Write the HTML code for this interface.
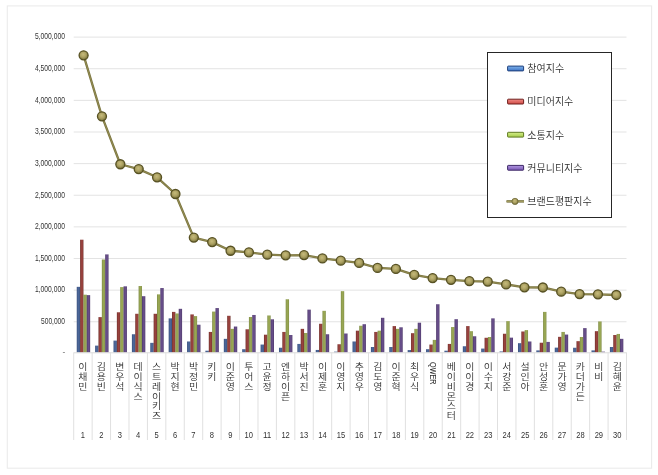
<!DOCTYPE html>
<html lang="ko"><head><meta charset="utf-8"><title>브랜드평판지수</title>
<style>html,body{margin:0;padding:0;background:#fff}svg{display:block;filter:blur(0.3px)}.ax{font-family:"Liberation Sans",sans-serif;font-size:8.4px;fill:#333}.kr{font-family:"Liberation Sans","Noto Sans CJK KR",sans-serif;font-weight:350;fill:#2e2e2e}</style></head><body>
<svg width="658" height="475" viewBox="0 0 658 475">
<defs><radialGradient id="mk" cx="0.45" cy="0.4" r="0.62"><stop offset="0" stop-color="#c6bb7c"/><stop offset="0.5" stop-color="#aca162"/><stop offset="0.85" stop-color="#857e44"/><stop offset="1" stop-color="#655f2d"/></radialGradient></defs>
<defs><linearGradient id="b0" x1="0" y1="0" x2="1" y2="0"><stop offset="0" stop-color="#364d7a"/><stop offset="0.35" stop-color="#4b6698"/><stop offset="0.7" stop-color="#4b6698"/><stop offset="1" stop-color="#364d7a"/></linearGradient><linearGradient id="b1" x1="0" y1="0" x2="1" y2="0"><stop offset="0" stop-color="#6f2f2a"/><stop offset="0.35" stop-color="#97413d"/><stop offset="0.7" stop-color="#97413d"/><stop offset="1" stop-color="#6f2f2a"/></linearGradient><linearGradient id="b2" x1="0" y1="0" x2="1" y2="0"><stop offset="0" stop-color="#7d8a44"/><stop offset="0.35" stop-color="#98a653"/><stop offset="0.7" stop-color="#98a653"/><stop offset="1" stop-color="#7d8a44"/></linearGradient><linearGradient id="b3" x1="0" y1="0" x2="1" y2="0"><stop offset="0" stop-color="#4c3868"/><stop offset="0.35" stop-color="#664d88"/><stop offset="0.7" stop-color="#664d88"/><stop offset="1" stop-color="#4c3868"/></linearGradient></defs>
<rect x="0" y="0" width="658" height="475" fill="#fff"/>
<rect x="7.3" y="5.9" width="644.3" height="462.3" fill="none" stroke="#ebebeb" stroke-width="1.1"/>
<line x1="73.7" y1="321.77" x2="626.5" y2="321.77" stroke="#e3e3e3" stroke-width="1"/>
<line x1="73.7" y1="290.14" x2="626.5" y2="290.14" stroke="#e3e3e3" stroke-width="1"/>
<line x1="73.7" y1="258.51" x2="626.5" y2="258.51" stroke="#e3e3e3" stroke-width="1"/>
<line x1="73.7" y1="226.88" x2="626.5" y2="226.88" stroke="#e3e3e3" stroke-width="1"/>
<line x1="73.7" y1="195.25" x2="626.5" y2="195.25" stroke="#e3e3e3" stroke-width="1"/>
<line x1="73.7" y1="163.62" x2="626.5" y2="163.62" stroke="#e3e3e3" stroke-width="1"/>
<line x1="73.7" y1="131.99" x2="626.5" y2="131.99" stroke="#e3e3e3" stroke-width="1"/>
<line x1="73.7" y1="100.36" x2="626.5" y2="100.36" stroke="#e3e3e3" stroke-width="1"/>
<line x1="73.7" y1="68.73" x2="626.5" y2="68.73" stroke="#e3e3e3" stroke-width="1"/>
<line x1="73.7" y1="37.10" x2="626.5" y2="37.10" stroke="#e3e3e3" stroke-width="1"/>
<text class="ax" x="65" y="324.07" text-anchor="end" textLength="24.0" lengthAdjust="spacingAndGlyphs">500,000</text>
<text class="ax" x="65" y="292.44" text-anchor="end" textLength="30.0" lengthAdjust="spacingAndGlyphs">1,000,000</text>
<text class="ax" x="65" y="260.81" text-anchor="end" textLength="30.0" lengthAdjust="spacingAndGlyphs">1,500,000</text>
<text class="ax" x="65" y="229.18" text-anchor="end" textLength="30.0" lengthAdjust="spacingAndGlyphs">2,000,000</text>
<text class="ax" x="65" y="197.55" text-anchor="end" textLength="30.0" lengthAdjust="spacingAndGlyphs">2,500,000</text>
<text class="ax" x="65" y="165.92" text-anchor="end" textLength="30.0" lengthAdjust="spacingAndGlyphs">3,000,000</text>
<text class="ax" x="65" y="134.29" text-anchor="end" textLength="30.0" lengthAdjust="spacingAndGlyphs">3,500,000</text>
<text class="ax" x="65" y="102.66" text-anchor="end" textLength="30.0" lengthAdjust="spacingAndGlyphs">4,000,000</text>
<text class="ax" x="65" y="71.03" text-anchor="end" textLength="30.0" lengthAdjust="spacingAndGlyphs">4,500,000</text>
<text class="ax" x="65" y="39.40" text-anchor="end" textLength="30.0" lengthAdjust="spacingAndGlyphs">5,000,000</text>
<text class="ax" x="65.3" y="354.6" text-anchor="end" fill-opacity="0.7">-</text>
<rect x="76.75" y="286.84" width="3.35" height="65.56" fill="url(#b0)"/>
<rect x="80.10" y="239.70" width="3.35" height="112.70" fill="url(#b1)"/>
<rect x="83.45" y="294.69" width="3.35" height="57.71" fill="url(#b2)"/>
<rect x="86.80" y="295.13" width="3.35" height="57.27" fill="url(#b3)"/>
<rect x="95.13" y="345.62" width="3.35" height="6.78" fill="url(#b0)"/>
<rect x="98.48" y="317.11" width="3.35" height="35.29" fill="url(#b1)"/>
<rect x="101.84" y="259.50" width="3.35" height="92.90" fill="url(#b2)"/>
<rect x="105.19" y="254.40" width="3.35" height="98.00" fill="url(#b3)"/>
<rect x="113.52" y="340.59" width="3.35" height="11.81" fill="url(#b0)"/>
<rect x="116.87" y="312.27" width="3.35" height="40.13" fill="url(#b1)"/>
<rect x="120.22" y="287.09" width="3.35" height="65.31" fill="url(#b2)"/>
<rect x="123.57" y="286.33" width="3.35" height="66.07" fill="url(#b3)"/>
<rect x="131.90" y="334.25" width="3.35" height="18.15" fill="url(#b0)"/>
<rect x="135.25" y="313.78" width="3.35" height="38.62" fill="url(#b1)"/>
<rect x="138.61" y="286.02" width="3.35" height="66.38" fill="url(#b2)"/>
<rect x="141.96" y="296.19" width="3.35" height="56.21" fill="url(#b3)"/>
<rect x="150.29" y="342.85" width="3.35" height="9.55" fill="url(#b0)"/>
<rect x="153.64" y="313.78" width="3.35" height="38.62" fill="url(#b1)"/>
<rect x="156.99" y="294.37" width="3.35" height="58.03" fill="url(#b2)"/>
<rect x="160.34" y="288.03" width="3.35" height="64.37" fill="url(#b3)"/>
<rect x="168.67" y="318.36" width="3.35" height="34.04" fill="url(#b0)"/>
<rect x="172.02" y="311.89" width="3.35" height="40.51" fill="url(#b1)"/>
<rect x="175.38" y="313.46" width="3.35" height="38.94" fill="url(#b2)"/>
<rect x="178.73" y="308.82" width="3.35" height="43.58" fill="url(#b3)"/>
<rect x="187.06" y="341.47" width="3.35" height="10.93" fill="url(#b0)"/>
<rect x="190.41" y="314.41" width="3.35" height="37.99" fill="url(#b1)"/>
<rect x="193.76" y="316.10" width="3.35" height="36.30" fill="url(#b2)"/>
<rect x="197.11" y="324.71" width="3.35" height="27.69" fill="url(#b3)"/>
<rect x="205.44" y="350.70" width="3.35" height="1.70" fill="url(#b0)"/>
<rect x="208.79" y="331.93" width="3.35" height="20.47" fill="url(#b1)"/>
<rect x="212.15" y="311.58" width="3.35" height="40.82" fill="url(#b2)"/>
<rect x="215.50" y="308.06" width="3.35" height="44.34" fill="url(#b3)"/>
<rect x="223.83" y="338.84" width="3.35" height="13.56" fill="url(#b0)"/>
<rect x="227.18" y="315.79" width="3.35" height="36.61" fill="url(#b1)"/>
<rect x="230.53" y="328.85" width="3.35" height="23.55" fill="url(#b2)"/>
<rect x="233.88" y="326.53" width="3.35" height="25.87" fill="url(#b3)"/>
<rect x="242.21" y="349.20" width="3.35" height="3.20" fill="url(#b0)"/>
<rect x="245.56" y="329.29" width="3.35" height="23.11" fill="url(#b1)"/>
<rect x="248.92" y="316.98" width="3.35" height="35.42" fill="url(#b2)"/>
<rect x="252.27" y="314.97" width="3.35" height="37.43" fill="url(#b3)"/>
<rect x="260.60" y="344.55" width="3.35" height="7.85" fill="url(#b0)"/>
<rect x="263.95" y="334.69" width="3.35" height="17.71" fill="url(#b1)"/>
<rect x="267.30" y="315.47" width="3.35" height="36.93" fill="url(#b2)"/>
<rect x="270.65" y="319.30" width="3.35" height="33.10" fill="url(#b3)"/>
<rect x="278.98" y="347.75" width="3.35" height="4.65" fill="url(#b0)"/>
<rect x="282.33" y="331.93" width="3.35" height="20.47" fill="url(#b1)"/>
<rect x="285.69" y="299.27" width="3.35" height="53.13" fill="url(#b2)"/>
<rect x="289.04" y="335.00" width="3.35" height="17.40" fill="url(#b3)"/>
<rect x="297.37" y="343.92" width="3.35" height="8.48" fill="url(#b0)"/>
<rect x="300.72" y="328.85" width="3.35" height="23.55" fill="url(#b1)"/>
<rect x="304.07" y="332.99" width="3.35" height="19.41" fill="url(#b2)"/>
<rect x="307.42" y="309.63" width="3.35" height="42.77" fill="url(#b3)"/>
<rect x="315.75" y="349.95" width="3.35" height="2.45" fill="url(#b0)"/>
<rect x="319.10" y="323.76" width="3.35" height="28.64" fill="url(#b1)"/>
<rect x="322.46" y="310.83" width="3.35" height="41.57" fill="url(#b2)"/>
<rect x="325.81" y="334.25" width="3.35" height="18.15" fill="url(#b3)"/>
<rect x="334.14" y="351.65" width="3.35" height="0.75" fill="url(#b0)"/>
<rect x="337.49" y="344.24" width="3.35" height="8.16" fill="url(#b1)"/>
<rect x="340.84" y="291.17" width="3.35" height="61.23" fill="url(#b2)"/>
<rect x="344.19" y="333.50" width="3.35" height="18.90" fill="url(#b3)"/>
<rect x="352.52" y="341.47" width="3.35" height="10.93" fill="url(#b0)"/>
<rect x="355.87" y="330.67" width="3.35" height="21.73" fill="url(#b1)"/>
<rect x="359.23" y="325.77" width="3.35" height="26.63" fill="url(#b2)"/>
<rect x="362.58" y="324.20" width="3.35" height="28.20" fill="url(#b3)"/>
<rect x="370.91" y="347.00" width="3.35" height="5.40" fill="url(#b0)"/>
<rect x="374.26" y="331.93" width="3.35" height="20.47" fill="url(#b1)"/>
<rect x="377.61" y="330.67" width="3.35" height="21.73" fill="url(#b2)"/>
<rect x="380.96" y="317.80" width="3.35" height="34.60" fill="url(#b3)"/>
<rect x="389.29" y="347.00" width="3.35" height="5.40" fill="url(#b0)"/>
<rect x="392.64" y="326.09" width="3.35" height="26.31" fill="url(#b1)"/>
<rect x="396.00" y="328.85" width="3.35" height="23.55" fill="url(#b2)"/>
<rect x="399.35" y="327.28" width="3.35" height="25.12" fill="url(#b3)"/>
<rect x="407.68" y="350.08" width="3.35" height="2.32" fill="url(#b0)"/>
<rect x="411.03" y="333.18" width="3.35" height="19.22" fill="url(#b1)"/>
<rect x="414.38" y="328.85" width="3.35" height="23.55" fill="url(#b2)"/>
<rect x="417.73" y="322.70" width="3.35" height="29.70" fill="url(#b3)"/>
<rect x="426.06" y="349.20" width="3.35" height="3.20" fill="url(#b0)"/>
<rect x="429.41" y="344.55" width="3.35" height="7.85" fill="url(#b1)"/>
<rect x="432.77" y="339.90" width="3.35" height="12.50" fill="url(#b2)"/>
<rect x="436.12" y="304.23" width="3.35" height="48.17" fill="url(#b3)"/>
<rect x="444.45" y="350.70" width="3.35" height="1.70" fill="url(#b0)"/>
<rect x="447.80" y="343.92" width="3.35" height="8.48" fill="url(#b1)"/>
<rect x="451.15" y="327.03" width="3.35" height="25.37" fill="url(#b2)"/>
<rect x="454.50" y="319.18" width="3.35" height="33.22" fill="url(#b3)"/>
<rect x="462.83" y="346.25" width="3.35" height="6.15" fill="url(#b0)"/>
<rect x="466.18" y="326.09" width="3.35" height="26.31" fill="url(#b1)"/>
<rect x="469.54" y="331.17" width="3.35" height="21.23" fill="url(#b2)"/>
<rect x="472.89" y="336.26" width="3.35" height="16.14" fill="url(#b3)"/>
<rect x="481.22" y="348.57" width="3.35" height="3.83" fill="url(#b0)"/>
<rect x="484.57" y="337.77" width="3.35" height="14.63" fill="url(#b1)"/>
<rect x="487.92" y="337.01" width="3.35" height="15.39" fill="url(#b2)"/>
<rect x="491.27" y="318.36" width="3.35" height="34.04" fill="url(#b3)"/>
<rect x="499.60" y="351.46" width="3.35" height="0.94" fill="url(#b0)"/>
<rect x="502.95" y="333.75" width="3.35" height="18.65" fill="url(#b1)"/>
<rect x="506.31" y="321.13" width="3.35" height="31.27" fill="url(#b2)"/>
<rect x="509.66" y="337.64" width="3.35" height="14.76" fill="url(#b3)"/>
<rect x="517.99" y="343.17" width="3.35" height="9.23" fill="url(#b0)"/>
<rect x="521.34" y="331.49" width="3.35" height="20.91" fill="url(#b1)"/>
<rect x="524.69" y="330.11" width="3.35" height="22.29" fill="url(#b2)"/>
<rect x="528.04" y="341.47" width="3.35" height="10.93" fill="url(#b3)"/>
<rect x="536.37" y="350.39" width="3.35" height="2.01" fill="url(#b0)"/>
<rect x="539.72" y="342.73" width="3.35" height="9.67" fill="url(#b1)"/>
<rect x="543.08" y="311.89" width="3.35" height="40.51" fill="url(#b2)"/>
<rect x="546.43" y="341.91" width="3.35" height="10.49" fill="url(#b3)"/>
<rect x="554.76" y="347.63" width="3.35" height="4.77" fill="url(#b0)"/>
<rect x="558.11" y="336.83" width="3.35" height="15.57" fill="url(#b1)"/>
<rect x="561.46" y="331.93" width="3.35" height="20.47" fill="url(#b2)"/>
<rect x="564.81" y="334.56" width="3.35" height="17.84" fill="url(#b3)"/>
<rect x="573.14" y="347.75" width="3.35" height="4.65" fill="url(#b0)"/>
<rect x="576.49" y="341.16" width="3.35" height="11.24" fill="url(#b1)"/>
<rect x="579.85" y="337.01" width="3.35" height="15.39" fill="url(#b2)"/>
<rect x="583.20" y="328.10" width="3.35" height="24.30" fill="url(#b3)"/>
<rect x="591.53" y="350.39" width="3.35" height="2.01" fill="url(#b0)"/>
<rect x="594.88" y="331.17" width="3.35" height="21.23" fill="url(#b1)"/>
<rect x="598.23" y="321.44" width="3.35" height="30.96" fill="url(#b2)"/>
<rect x="601.58" y="351.65" width="3.35" height="0.75" fill="url(#b3)"/>
<rect x="609.91" y="347.00" width="3.35" height="5.40" fill="url(#b0)"/>
<rect x="613.26" y="335.00" width="3.35" height="17.40" fill="url(#b1)"/>
<rect x="616.62" y="333.94" width="3.35" height="18.46" fill="url(#b2)"/>
<rect x="619.97" y="338.84" width="3.35" height="13.56" fill="url(#b3)"/>
<line x1="73.7" y1="352.8" x2="626.5" y2="352.8" stroke="#dadada" stroke-width="1"/>
<line x1="73.70" y1="352.50" x2="73.70" y2="440" stroke="#e0e0e0" stroke-width="1"/>
<line x1="92.13" y1="352.50" x2="92.13" y2="440" stroke="#e0e0e0" stroke-width="1"/>
<line x1="110.55" y1="352.50" x2="110.55" y2="440" stroke="#e0e0e0" stroke-width="1"/>
<line x1="128.98" y1="352.50" x2="128.98" y2="440" stroke="#e0e0e0" stroke-width="1"/>
<line x1="147.41" y1="352.50" x2="147.41" y2="440" stroke="#e0e0e0" stroke-width="1"/>
<line x1="165.83" y1="352.50" x2="165.83" y2="440" stroke="#e0e0e0" stroke-width="1"/>
<line x1="184.26" y1="352.50" x2="184.26" y2="440" stroke="#e0e0e0" stroke-width="1"/>
<line x1="202.69" y1="352.50" x2="202.69" y2="440" stroke="#e0e0e0" stroke-width="1"/>
<line x1="221.11" y1="352.50" x2="221.11" y2="440" stroke="#e0e0e0" stroke-width="1"/>
<line x1="239.54" y1="352.50" x2="239.54" y2="440" stroke="#e0e0e0" stroke-width="1"/>
<line x1="257.97" y1="352.50" x2="257.97" y2="440" stroke="#e0e0e0" stroke-width="1"/>
<line x1="276.39" y1="352.50" x2="276.39" y2="440" stroke="#e0e0e0" stroke-width="1"/>
<line x1="294.82" y1="352.50" x2="294.82" y2="440" stroke="#e0e0e0" stroke-width="1"/>
<line x1="313.25" y1="352.50" x2="313.25" y2="440" stroke="#e0e0e0" stroke-width="1"/>
<line x1="331.67" y1="352.50" x2="331.67" y2="440" stroke="#e0e0e0" stroke-width="1"/>
<line x1="350.10" y1="352.50" x2="350.10" y2="440" stroke="#e0e0e0" stroke-width="1"/>
<line x1="368.53" y1="352.50" x2="368.53" y2="440" stroke="#e0e0e0" stroke-width="1"/>
<line x1="386.95" y1="352.50" x2="386.95" y2="440" stroke="#e0e0e0" stroke-width="1"/>
<line x1="405.38" y1="352.50" x2="405.38" y2="440" stroke="#e0e0e0" stroke-width="1"/>
<line x1="423.81" y1="352.50" x2="423.81" y2="440" stroke="#e0e0e0" stroke-width="1"/>
<line x1="442.23" y1="352.50" x2="442.23" y2="440" stroke="#e0e0e0" stroke-width="1"/>
<line x1="460.66" y1="352.50" x2="460.66" y2="440" stroke="#e0e0e0" stroke-width="1"/>
<line x1="479.09" y1="352.50" x2="479.09" y2="440" stroke="#e0e0e0" stroke-width="1"/>
<line x1="497.51" y1="352.50" x2="497.51" y2="440" stroke="#e0e0e0" stroke-width="1"/>
<line x1="515.94" y1="352.50" x2="515.94" y2="440" stroke="#e0e0e0" stroke-width="1"/>
<line x1="534.37" y1="352.50" x2="534.37" y2="440" stroke="#e0e0e0" stroke-width="1"/>
<line x1="552.79" y1="352.50" x2="552.79" y2="440" stroke="#e0e0e0" stroke-width="1"/>
<line x1="571.22" y1="352.50" x2="571.22" y2="440" stroke="#e0e0e0" stroke-width="1"/>
<line x1="589.65" y1="352.50" x2="589.65" y2="440" stroke="#e0e0e0" stroke-width="1"/>
<line x1="608.07" y1="352.50" x2="608.07" y2="440" stroke="#e0e0e0" stroke-width="1"/>
<line x1="626.50" y1="352.50" x2="626.50" y2="440" stroke="#e0e0e0" stroke-width="1"/>
<text class="kr" font-size="9.4" text-anchor="middle" transform="scale(1.06 1)" x="78.22 78.22 78.22" y="370.40 380.12 389.84">이채민</text>
<text class="ax" style="font-size:8.6px" text-anchor="middle" x="82.91" y="438.4" textLength="4.2" lengthAdjust="spacingAndGlyphs">1</text>
<text class="kr" font-size="9.4" text-anchor="middle" transform="scale(1.06 1)" x="95.60 95.60 95.60" y="370.40 380.12 389.84">김용빈</text>
<text class="ax" style="font-size:8.6px" text-anchor="middle" x="101.34" y="438.4" textLength="4.2" lengthAdjust="spacingAndGlyphs">2</text>
<text class="kr" font-size="9.4" text-anchor="middle" transform="scale(1.06 1)" x="112.99 112.99 112.99" y="370.40 380.12 389.84">변우석</text>
<text class="ax" style="font-size:8.6px" text-anchor="middle" x="119.77" y="438.4" textLength="4.2" lengthAdjust="spacingAndGlyphs">3</text>
<text class="kr" font-size="9.4" text-anchor="middle" transform="scale(1.06 1)" x="130.37 130.37 130.37 130.37" y="370.40 380.12 389.84 399.56">데이식스</text>
<text class="ax" style="font-size:8.6px" text-anchor="middle" x="138.19" y="438.4" textLength="4.2" lengthAdjust="spacingAndGlyphs">4</text>
<text class="kr" font-size="9.4" text-anchor="middle" transform="scale(1.06 1)" x="147.75 147.75 147.75 147.75 147.75 147.75" y="370.40 380.12 389.84 399.56 409.28 419.00">스트레이키즈</text>
<text class="ax" style="font-size:8.6px" text-anchor="middle" x="156.62" y="438.4" textLength="4.2" lengthAdjust="spacingAndGlyphs">5</text>
<text class="kr" font-size="9.4" text-anchor="middle" transform="scale(1.06 1)" x="165.14 165.14 165.14" y="370.40 380.12 389.84">박지현</text>
<text class="ax" style="font-size:8.6px" text-anchor="middle" x="175.05" y="438.4" textLength="4.2" lengthAdjust="spacingAndGlyphs">6</text>
<text class="kr" font-size="9.4" text-anchor="middle" transform="scale(1.06 1)" x="182.52 182.52 182.52" y="370.40 380.12 389.84">박정민</text>
<text class="ax" style="font-size:8.6px" text-anchor="middle" x="193.47" y="438.4" textLength="4.2" lengthAdjust="spacingAndGlyphs">7</text>
<text class="kr" font-size="9.4" text-anchor="middle" transform="scale(1.06 1)" x="199.91 199.91" y="370.40 380.12">키키</text>
<text class="ax" style="font-size:8.6px" text-anchor="middle" x="211.90" y="438.4" textLength="4.2" lengthAdjust="spacingAndGlyphs">8</text>
<text class="kr" font-size="9.4" text-anchor="middle" transform="scale(1.06 1)" x="217.29 217.29 217.29" y="370.40 380.12 389.84">이준영</text>
<text class="ax" style="font-size:8.6px" text-anchor="middle" x="230.33" y="438.4" textLength="4.2" lengthAdjust="spacingAndGlyphs">9</text>
<text class="kr" font-size="9.4" text-anchor="middle" transform="scale(1.06 1)" x="234.67 234.67 234.67" y="370.40 380.12 389.84">투어스</text>
<text class="ax" style="font-size:8.6px" text-anchor="middle" x="248.75" y="438.4" textLength="8.4" lengthAdjust="spacingAndGlyphs">10</text>
<text class="kr" font-size="9.4" text-anchor="middle" transform="scale(1.06 1)" x="252.06 252.06 252.06" y="370.40 380.12 389.84">고윤정</text>
<text class="ax" style="font-size:8.6px" text-anchor="middle" x="267.18" y="438.4" textLength="8.4" lengthAdjust="spacingAndGlyphs">11</text>
<text class="kr" font-size="9.4" text-anchor="middle" transform="scale(1.06 1)" x="269.44 269.44 269.44 269.44" y="370.40 380.12 389.84 399.56">엔하이픈</text>
<text class="ax" style="font-size:8.6px" text-anchor="middle" x="285.61" y="438.4" textLength="8.4" lengthAdjust="spacingAndGlyphs">12</text>
<text class="kr" font-size="9.4" text-anchor="middle" transform="scale(1.06 1)" x="286.82 286.82 286.82" y="370.40 380.12 389.84">박서진</text>
<text class="ax" style="font-size:8.6px" text-anchor="middle" x="304.03" y="438.4" textLength="8.4" lengthAdjust="spacingAndGlyphs">13</text>
<text class="kr" font-size="9.4" text-anchor="middle" transform="scale(1.06 1)" x="304.21 304.21 304.21" y="370.40 380.12 389.84">이제훈</text>
<text class="ax" style="font-size:8.6px" text-anchor="middle" x="322.46" y="438.4" textLength="8.4" lengthAdjust="spacingAndGlyphs">14</text>
<text class="kr" font-size="9.4" text-anchor="middle" transform="scale(1.06 1)" x="321.59 321.59 321.59" y="370.40 380.12 389.84">이영지</text>
<text class="ax" style="font-size:8.6px" text-anchor="middle" x="340.89" y="438.4" textLength="8.4" lengthAdjust="spacingAndGlyphs">15</text>
<text class="kr" font-size="9.4" text-anchor="middle" transform="scale(1.06 1)" x="338.97 338.97 338.97" y="370.40 380.12 389.84">추영우</text>
<text class="ax" style="font-size:8.6px" text-anchor="middle" x="359.31" y="438.4" textLength="8.4" lengthAdjust="spacingAndGlyphs">16</text>
<text class="kr" font-size="9.4" text-anchor="middle" transform="scale(1.06 1)" x="356.36 356.36 356.36" y="370.40 380.12 389.84">김도영</text>
<text class="ax" style="font-size:8.6px" text-anchor="middle" x="377.74" y="438.4" textLength="8.4" lengthAdjust="spacingAndGlyphs">17</text>
<text class="kr" font-size="9.4" text-anchor="middle" transform="scale(1.06 1)" x="373.74 373.74 373.74" y="370.40 380.12 389.84">이준혁</text>
<text class="ax" style="font-size:8.6px" text-anchor="middle" x="396.17" y="438.4" textLength="8.4" lengthAdjust="spacingAndGlyphs">18</text>
<text class="kr" font-size="9.4" text-anchor="middle" transform="scale(1.06 1)" x="391.13 391.13 391.13" y="370.40 380.12 389.84">최우식</text>
<text class="ax" style="font-size:8.6px" text-anchor="middle" x="414.59" y="438.4" textLength="8.4" lengthAdjust="spacingAndGlyphs">19</text>
<text class="kr" font-size="8.8" style="font-weight:400" textLength="22.6" lengthAdjust="spacingAndGlyphs" transform="translate(433.02,362.0) rotate(90)" x="0" y="3.3">QWER</text>
<text class="ax" style="font-size:8.6px" text-anchor="middle" x="433.02" y="438.4" textLength="8.4" lengthAdjust="spacingAndGlyphs">20</text>
<text class="kr" font-size="9.4" text-anchor="middle" transform="scale(1.06 1)" x="425.89 425.89 425.89 425.89 425.89 425.89" y="370.40 380.12 389.84 399.56 409.28 419.00">베이비몬스터</text>
<text class="ax" style="font-size:8.6px" text-anchor="middle" x="451.45" y="438.4" textLength="8.4" lengthAdjust="spacingAndGlyphs">21</text>
<text class="kr" font-size="9.4" text-anchor="middle" transform="scale(1.06 1)" x="443.28 443.28 443.28" y="370.40 380.12 389.84">이이경</text>
<text class="ax" style="font-size:8.6px" text-anchor="middle" x="469.87" y="438.4" textLength="8.4" lengthAdjust="spacingAndGlyphs">22</text>
<text class="kr" font-size="9.4" text-anchor="middle" transform="scale(1.06 1)" x="460.66 460.66 460.66" y="370.40 380.12 389.84">이수지</text>
<text class="ax" style="font-size:8.6px" text-anchor="middle" x="488.30" y="438.4" textLength="8.4" lengthAdjust="spacingAndGlyphs">23</text>
<text class="kr" font-size="9.4" text-anchor="middle" transform="scale(1.06 1)" x="478.04 478.04 478.04" y="370.40 380.12 389.84">서강준</text>
<text class="ax" style="font-size:8.6px" text-anchor="middle" x="506.73" y="438.4" textLength="8.4" lengthAdjust="spacingAndGlyphs">24</text>
<text class="kr" font-size="9.4" text-anchor="middle" transform="scale(1.06 1)" x="495.43 495.43 495.43" y="370.40 380.12 389.84">설인아</text>
<text class="ax" style="font-size:8.6px" text-anchor="middle" x="525.15" y="438.4" textLength="8.4" lengthAdjust="spacingAndGlyphs">25</text>
<text class="kr" font-size="9.4" text-anchor="middle" transform="scale(1.06 1)" x="512.81 512.81 512.81" y="370.40 380.12 389.84">안성훈</text>
<text class="ax" style="font-size:8.6px" text-anchor="middle" x="543.58" y="438.4" textLength="8.4" lengthAdjust="spacingAndGlyphs">26</text>
<text class="kr" font-size="9.4" text-anchor="middle" transform="scale(1.06 1)" x="530.19 530.19 530.19" y="370.40 380.12 389.84">문가영</text>
<text class="ax" style="font-size:8.6px" text-anchor="middle" x="562.01" y="438.4" textLength="8.4" lengthAdjust="spacingAndGlyphs">27</text>
<text class="kr" font-size="9.4" text-anchor="middle" transform="scale(1.06 1)" x="547.58 547.58 547.58 547.58" y="370.40 380.12 389.84 399.56">카더가든</text>
<text class="ax" style="font-size:8.6px" text-anchor="middle" x="580.43" y="438.4" textLength="8.4" lengthAdjust="spacingAndGlyphs">28</text>
<text class="kr" font-size="9.4" text-anchor="middle" transform="scale(1.06 1)" x="564.96 564.96" y="370.40 380.12">비비</text>
<text class="ax" style="font-size:8.6px" text-anchor="middle" x="598.86" y="438.4" textLength="8.4" lengthAdjust="spacingAndGlyphs">29</text>
<text class="kr" font-size="9.4" text-anchor="middle" transform="scale(1.06 1)" x="582.35 582.35 582.35" y="370.40 380.12 389.84">김혜윤</text>
<text class="ax" style="font-size:8.6px" text-anchor="middle" x="617.29" y="438.4" textLength="8.4" lengthAdjust="spacingAndGlyphs">30</text>
<polyline points="83.60,55.32 101.97,116.37 120.34,164.25 138.71,169.10 157.08,177.29 175.45,193.99 193.82,237.58 212.19,242.12 230.56,250.75 248.93,252.33 267.30,254.72 285.67,255.35 304.04,255.10 322.41,258.44 340.78,260.64 359.15,262.91 377.52,267.89 395.89,268.96 414.26,274.88 432.63,278.09 451.00,279.86 469.37,281.12 487.74,281.62 506.11,284.39 524.48,287.35 542.85,287.48 561.22,291.64 579.59,294.03 597.96,294.28 616.33,294.98" fill="none" stroke="#7a7440" stroke-width="2.3" stroke-linejoin="round"/>
<polyline points="83.60,55.32 101.97,116.37 120.34,164.25 138.71,169.10 157.08,177.29 175.45,193.99 193.82,237.58 212.19,242.12 230.56,250.75 248.93,252.33 267.30,254.72 285.67,255.35 304.04,255.10 322.41,258.44 340.78,260.64 359.15,262.91 377.52,267.89 395.89,268.96 414.26,274.88 432.63,278.09 451.00,279.86 469.37,281.12 487.74,281.62 506.11,284.39 524.48,287.35 542.85,287.48 561.22,291.64 579.59,294.03 597.96,294.28 616.33,294.98" fill="none" stroke="#958f54" stroke-width="0.9" stroke-linejoin="round"/>
<circle cx="83.60" cy="55.32" r="4.5" fill="url(#mk)" stroke="#575123" stroke-width="1.3"/>
<circle cx="101.97" cy="116.37" r="4.5" fill="url(#mk)" stroke="#575123" stroke-width="1.3"/>
<circle cx="120.34" cy="164.25" r="4.5" fill="url(#mk)" stroke="#575123" stroke-width="1.3"/>
<circle cx="138.71" cy="169.10" r="4.5" fill="url(#mk)" stroke="#575123" stroke-width="1.3"/>
<circle cx="157.08" cy="177.29" r="4.5" fill="url(#mk)" stroke="#575123" stroke-width="1.3"/>
<circle cx="175.45" cy="193.99" r="4.5" fill="url(#mk)" stroke="#575123" stroke-width="1.3"/>
<circle cx="193.82" cy="237.58" r="4.5" fill="url(#mk)" stroke="#575123" stroke-width="1.3"/>
<circle cx="212.19" cy="242.12" r="4.5" fill="url(#mk)" stroke="#575123" stroke-width="1.3"/>
<circle cx="230.56" cy="250.75" r="4.5" fill="url(#mk)" stroke="#575123" stroke-width="1.3"/>
<circle cx="248.93" cy="252.33" r="4.5" fill="url(#mk)" stroke="#575123" stroke-width="1.3"/>
<circle cx="267.30" cy="254.72" r="4.5" fill="url(#mk)" stroke="#575123" stroke-width="1.3"/>
<circle cx="285.67" cy="255.35" r="4.5" fill="url(#mk)" stroke="#575123" stroke-width="1.3"/>
<circle cx="304.04" cy="255.10" r="4.5" fill="url(#mk)" stroke="#575123" stroke-width="1.3"/>
<circle cx="322.41" cy="258.44" r="4.5" fill="url(#mk)" stroke="#575123" stroke-width="1.3"/>
<circle cx="340.78" cy="260.64" r="4.5" fill="url(#mk)" stroke="#575123" stroke-width="1.3"/>
<circle cx="359.15" cy="262.91" r="4.5" fill="url(#mk)" stroke="#575123" stroke-width="1.3"/>
<circle cx="377.52" cy="267.89" r="4.5" fill="url(#mk)" stroke="#575123" stroke-width="1.3"/>
<circle cx="395.89" cy="268.96" r="4.5" fill="url(#mk)" stroke="#575123" stroke-width="1.3"/>
<circle cx="414.26" cy="274.88" r="4.5" fill="url(#mk)" stroke="#575123" stroke-width="1.3"/>
<circle cx="432.63" cy="278.09" r="4.5" fill="url(#mk)" stroke="#575123" stroke-width="1.3"/>
<circle cx="451.00" cy="279.86" r="4.5" fill="url(#mk)" stroke="#575123" stroke-width="1.3"/>
<circle cx="469.37" cy="281.12" r="4.5" fill="url(#mk)" stroke="#575123" stroke-width="1.3"/>
<circle cx="487.74" cy="281.62" r="4.5" fill="url(#mk)" stroke="#575123" stroke-width="1.3"/>
<circle cx="506.11" cy="284.39" r="4.5" fill="url(#mk)" stroke="#575123" stroke-width="1.3"/>
<circle cx="524.48" cy="287.35" r="4.5" fill="url(#mk)" stroke="#575123" stroke-width="1.3"/>
<circle cx="542.85" cy="287.48" r="4.5" fill="url(#mk)" stroke="#575123" stroke-width="1.3"/>
<circle cx="561.22" cy="291.64" r="4.5" fill="url(#mk)" stroke="#575123" stroke-width="1.3"/>
<circle cx="579.59" cy="294.03" r="4.5" fill="url(#mk)" stroke="#575123" stroke-width="1.3"/>
<circle cx="597.96" cy="294.28" r="4.5" fill="url(#mk)" stroke="#575123" stroke-width="1.3"/>
<circle cx="616.33" cy="294.98" r="4.5" fill="url(#mk)" stroke="#575123" stroke-width="1.3"/>
<rect x="487.5" y="52.5" width="124" height="165" fill="#fff" stroke="#262626" stroke-width="1"/>
<linearGradient id="lg0" x1="0" y1="0" x2="0" y2="1"><stop offset="0" stop-color="#7fb4ee"/><stop offset="1" stop-color="#3f74c4"/></linearGradient>
<rect x="507.6" y="66.1" width="16" height="4.8" rx="0.6" fill="url(#lg0)" stroke="#1f3f7a" stroke-width="1"/>
<text class="kr" font-size="10" x="527.3" y="72.3">참여지수</text>
<linearGradient id="lg1" x1="0" y1="0" x2="0" y2="1"><stop offset="0" stop-color="#f08a86"/><stop offset="1" stop-color="#cf4a45"/></linearGradient>
<rect x="507.6" y="99.2" width="16" height="4.8" rx="0.6" fill="url(#lg1)" stroke="#6e1f1c" stroke-width="1"/>
<text class="kr" font-size="10" x="527.3" y="105.4">미디어지수</text>
<linearGradient id="lg2" x1="0" y1="0" x2="0" y2="1"><stop offset="0" stop-color="#d4ee8a"/><stop offset="1" stop-color="#a6cc4a"/></linearGradient>
<rect x="507.6" y="132.3" width="16" height="4.8" rx="0.6" fill="url(#lg2)" stroke="#5f7a22" stroke-width="1"/>
<text class="kr" font-size="10" x="527.3" y="138.5">소통지수</text>
<linearGradient id="lg3" x1="0" y1="0" x2="0" y2="1"><stop offset="0" stop-color="#b096e0"/><stop offset="1" stop-color="#7a58b5"/></linearGradient>
<rect x="507.6" y="165.4" width="16" height="4.8" rx="0.6" fill="url(#lg3)" stroke="#3d2866" stroke-width="1"/>
<text class="kr" font-size="10" x="527.3" y="171.7">커뮤니티지수</text>
<line x1="506.5" y1="201.4" x2="524" y2="201.4" stroke="#6f6a38" stroke-width="2.4"/>
<line x1="506.5" y1="201.4" x2="524" y2="201.4" stroke="#a09a5c" stroke-width="1.2"/>
<circle cx="515" cy="201.4" r="3.1" fill="url(#mk)" stroke="#67612f" stroke-width="0.7"/>
<text class="kr" font-size="10" x="527.3" y="204.8">브랜드평판지수</text>
</svg></body></html>
